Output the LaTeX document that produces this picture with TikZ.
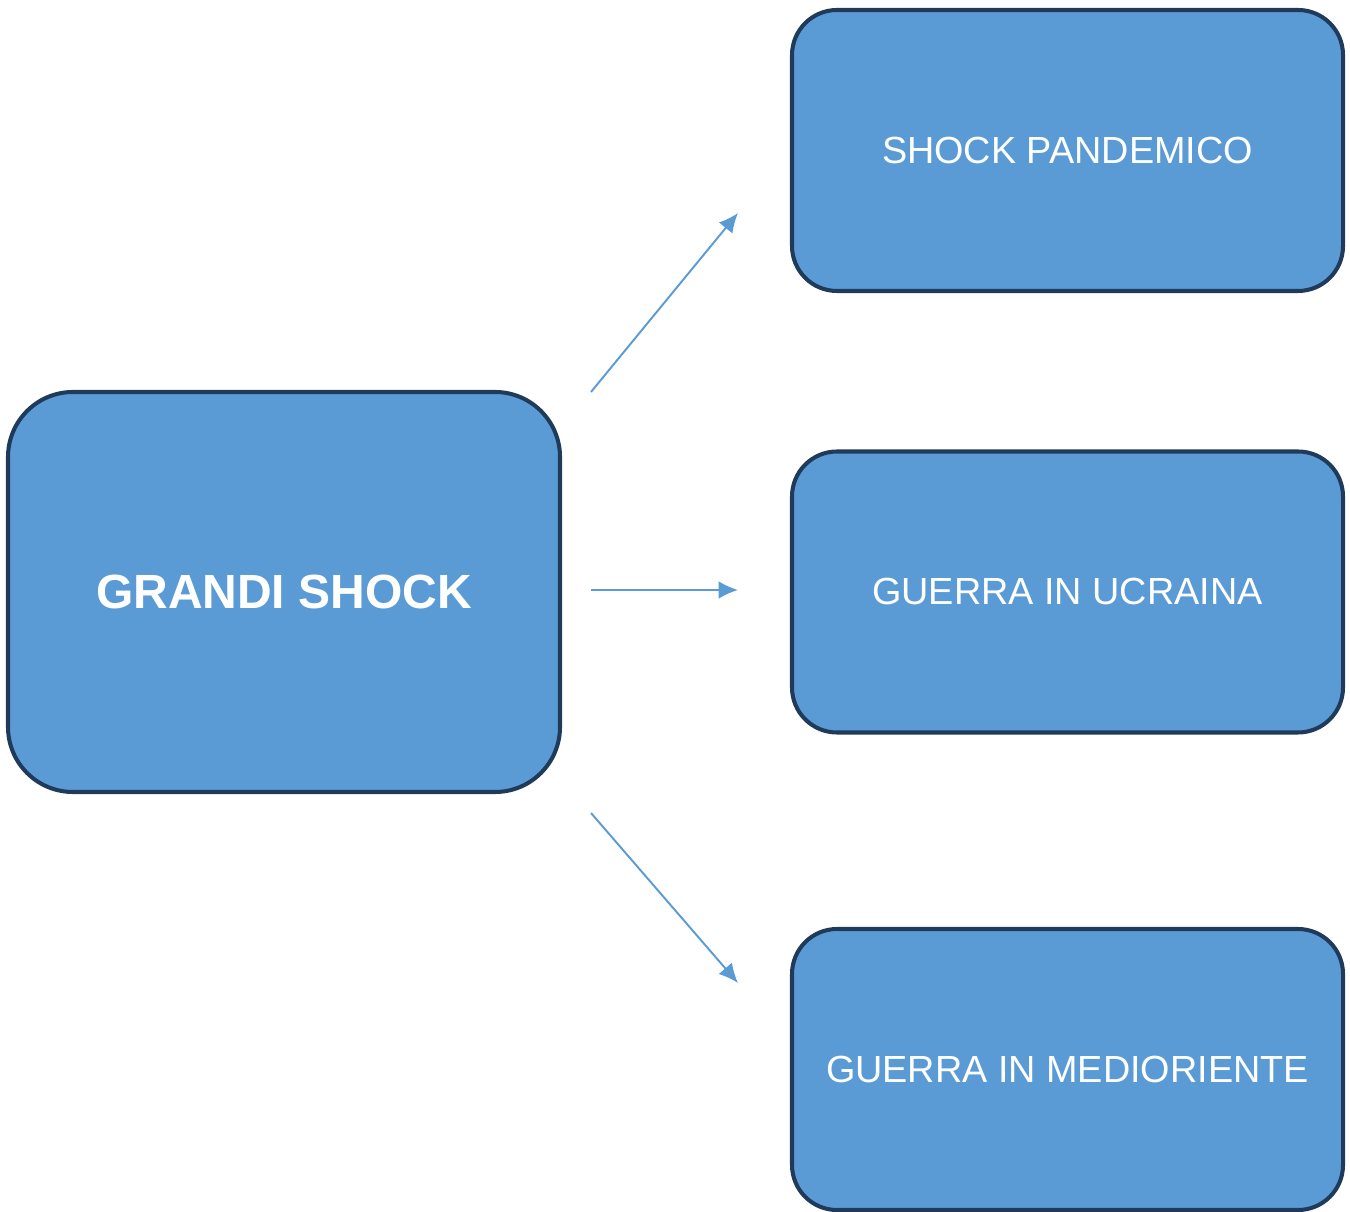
\documentclass[tikz,border=0pt]{standalone}
\usepackage{fontspec}
\setmainfont{Liberation Sans}
\usetikzlibrary{arrows.meta}
\definecolor{boxfill}{RGB}{91,155,213}
\definecolor{boxline}{RGB}{32,58,89}

\begin{document}
\begin{tikzpicture}[
	shockbox/.style={draw=boxline, line width=2.3pt, fill=boxfill, text=white,
		rounded corners=0.9cm, minimum width=11.02cm, minimum height=5.62cm,
		font=\fontsize{21.5}{26}\selectfont},
	link/.style={draw=boxfill, line width=1.1pt, -{Latex[length=11pt,width=10pt]}}
	]
\useasboundingbox (0, 0) rectangle (27, 24.22);

\node [shockbox, rounded corners=1.3cm, minimum width=11.04cm, minimum height=8cm,
	font=\fontsize{27.3}{32}\selectfont\bfseries] (grandi) at (5.68, 12.38) {GRANDI SHOCK};
\node [shockbox] (pandemico) at (21.35, 21.21) {SHOCK PANDEMICO};
\node [shockbox] (ucraina) at (21.35, 12.38) {GUERRA IN UCRAINA};
\node [shockbox] (medioriente) at (21.35, 2.83) {GUERRA IN MEDIORIENTE};

\foreach \name/\x/\y in {
	s1/11.82/16.38, e1/14.76/19.96,
	s2/11.82/12.42, e2/14.76/12.42,
	s3/11.82/7.96, e3/14.76/4.56
	} {
	\coordinate (\name) at (\x, \y);
}
\foreach \i in {1, 2, 3} {
	\draw [link] (s\i) -- (e\i);
}
\end{tikzpicture}
\end{document}
